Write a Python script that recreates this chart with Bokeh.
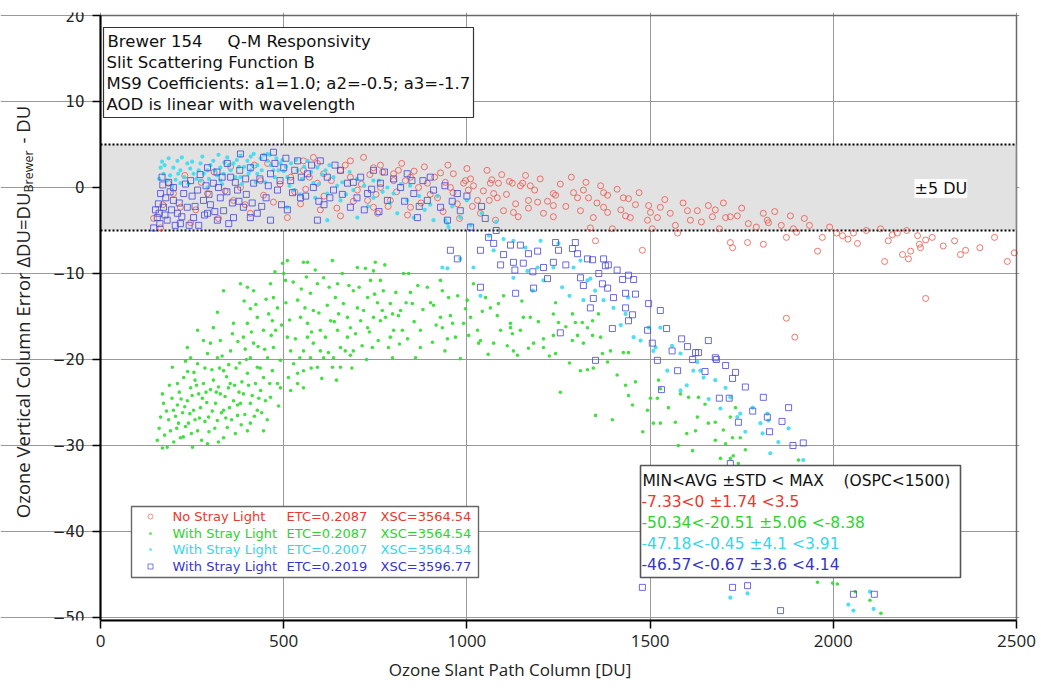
import math
from bokeh.plotting import figure
from bokeh.models import Range1d, FixedTicker, BoxAnnotation, Label
from bokeh.embed import file_html
from bokeh.resources import INLINE

# ---------------- data ----------------
x_ticks = [0, 500, 1000, 1500, 2000, 2500]
y_ticks = [-50, -40, -30, -20, -10, 0, 10, 20]
x_lo, x_hi = 0, 2500
y_lo, y_hi = -50.35, 20
band_lo, band_hi = -5, 5

red_pts = [
    (145,-3.6),(164,-4.7),(246,-4.1),(322,-3.6),(409,-3.0),(472,-1.7),(510,-3.5),(546,-1.9),(655,-3.3),
    (363,-1.5),(382,0.0),(437,0.8),(554,2.0),(592,0.5),(218,-2.3),(292,-0.7),(199,-0.7),(456,2.8),
    (581,3.5),(682,1.2),(701,-0.3),(764,2.6),(800,0.8),(745,-2.3),
    (800,1.6),(813,2.0),(832,0.8),(846,1.2),(868,0.0),(892,0.5),(928,1.7),(941,0.6),(920,-1.2),
    (974,-1.9),(991,0.5),(1004,-0.3),(1029,-1.5),(1064,0.5),(1083,-1.2),(1124,0.5),(1152,0.5),
    (1173,0.2),(1209,-3.0),(1133,-1.9),(1100,-2.7),(1037,-3.0),(955,0.0),(718,3.5),(745,2.3),
    (764,0.0),(682,3.1),(655,2.0),(609,1.6),(592,2.8),(554,3.1),(560,-0.2),(519,1.2),(791,-1.5),
    (756,-3.0),(846,-2.3),(729,-1.5),
    (963,1.6),(996,0.8),(1010,1.0),(1018,0.2),(1068,0.9),(1086,0.5),(1073,-0.7),(1061,-1.5),
    (1116,0.7),(1146,0.2),(1168,-1.5),(1193,-1.7),(1127,-2.9),(1168,-2.4),(1236,-0.7),(1242,-0.9),
    (1236,-2.1),(1236,-3.4),(1291,-0.6),(1302,-1.2),(1318,-0.3),(1332,-1.2),(1310,-2.7),(1345,-3.5),
    (1373,-0.6),(1384,-0.9),(1373,-2.3),(1384,-2.9),(1427,-1.2),(1441,-1.3),(1433,-3.3),(1446,-3.5),
    (1397,-4.8),(1337,-4.7),(1479,-7.3),(1351,-6.2),(1496,-2.1),(1501,-2.9),(1528,-2.3),(1520,-3.5),
    (1493,-3.8),(1506,-4.8),(1569,-4.4),(1575,-5.3),(1602,-2.7),(1629,-2.7),(1610,-3.8),(1659,-2.1),
    (1678,-2.6),(1706,-3.5),(1719,-3.4),(1738,-3.3),(1768,-4.2),(1809,-3.0),(1820,-3.8),(1719,-6.4),
    (1725,-7.0),(1766,-6.4),(1809,-6.6),(1689,-4.8),
    (1823,-4.1),(1858,-4.4),(1883,-3.3),(1921,-3.6),(1872,-5.8),(1891,-4.8),(1957,-7.4),(1970,-5.8),
    (2009,-5.3),(2025,-5.6),(2055,-5.3),(2066,-6.5),(2129,-4.8),(2140,-8.6),(2161,-5.5),(2175,-5.3),
    (2189,-7.8),(2205,-8.3),(2211,-7.4),(2230,-5.6),(2235,-6.6),(2238,-7.0),(2252,-6.1),(2252,-12.9),
    (2331,-6.2),(2347,-7.8),(2361,-7.3),(2475,-8.6),(2494,-7.6),(1872,-15.2),(1895,-17.4),
    (610,-1.0),(630,0.8),(645,-2.4),(668,2.6),(690,-1.6),(712,0.4),(735,1.5),(752,-0.8),(770,1.8),
    (785,-2.2),(808,-0.5),(822,2.8),(838,-3.2),(856,1.9),(875,-1.8),(884,2.4),(900,-0.8),(912,1.2),
    (935,-2.8),(948,2.6),(962,-0.6),(980,-3.6),(1000,2.2),(1015,-2.2),(1045,-0.4),(1055,2.0),
    (1078,-3.8),(1095,1.5),(1108,-0.8),(1140,-3.4),(1160,1.4),(1185,-0.3),(1200,1.0),(1220,-1.6),
    (1255,0.4),(1270,-2.2),(1285,1.2),(1325,0.6),(1355,-1.8),(1365,0.2),(1410,-0.2),(1420,-2.6),
    (1460,-2.0),(1470,-0.6),(1540,-1.4),(1555,-3.0),(1590,-1.8),(1640,-4.0),(1670,-3.4),(1700,-1.8),
    (1750,-2.4),(1790,-4.6),(1840,-2.8),(1900,-5.2),(1935,-4.4),(1990,-4.6),(2040,-6.0),(2090,-5.0),
    (2150,-6.2),(2200,-5.0),(2270,-5.8),(2300,-6.8),(2400,-7.0),(2440,-5.8),
    (170,-2.0),(185,0.5),(230,1.4),(260,-2.6),(275,0.6),(310,1.8),(340,-0.4),(355,2.4),(395,-2.0),
    (420,2.6),(445,-0.9),(490,0.4),(530,-0.5),(570,1.2),(600,-2.6),
]

green_pts = [
    (155,-29.4),(169,-30.3),(182,-30.2),(164,-26.7),(172,-25.1),(169,-24.0),(191,-28.3),(196,-20.9),
    (199,-25.9),(213,-27.4),(218,-29.1),(210,-22.8),
    (237,-18.6),(246,-19.8),(227,-22.1),(246,-23.3),(237,-24.8),(254,-25.9),(240,-27.4),(265,-28.3),
    (273,-25.6),(265,-20.5),(281,-17.8),(265,-16.6),(281,-22.8),(292,-19.3),(295,-26.7),(292,-29.8),
    (251,-30.2),(210,-25.3),(224,-26.2),
    (319,-14.5),(336,-12.0),(308,-16.3),(327,-17.8),(319,-19.8),(336,-21.3),(308,-22.4),(327,-24.0),
    (314,-25.1),(336,-25.9),(319,-27.1),(346,-27.9),(336,-29.1),(300,-18.1),(355,-19.0),(363,-15.8),
    (349,-23.3),(363,-24.8),(374,-26.5),
    (382,-11.2),(401,-11.6),(418,-12.0),(409,-14.1),(401,-15.8),(428,-15.1),(390,-17.4),(418,-18.1),
    (409,-19.8),(428,-20.9),(401,-21.6),(423,-22.8),(390,-24.0),(409,-25.1),(382,-25.1),(374,-25.3),
    (428,-25.9),(409,-27.4),(401,-28.3),(445,-28.3),(437,-23.6),(445,-22.1),(456,-19.8),(445,-16.6),
    (459,-14.7),(464,-11.2),
    (472,-12.8),(483,-14.0),(469,-15.5),(478,-16.6),(472,-18.6),(491,-20.1),(469,-21.3),(483,-22.8),
    (464,-24.4),(491,-23.3),(497,-8.8),(510,-8.5),(500,-10.0),(505,-10.8),(510,-17.4),(519,-19.0),
    (527,-20.5),(513,-22.1),(538,-21.6),(519,-23.6),(546,-15.1),(538,-13.1),(548,-11.8),(554,-8.7),
    (565,-15.8),(573,-12.3),(581,-14.3),(592,-11.2),(565,-17.4),(581,-18.1),(600,-16.6),(554,-19.0),
    (573,-19.8),(600,-19.0),(609,-19.8),(554,-21.3),(538,-22.8),(592,-20.9),(575,-21.0),(619,-13.7),
    (628,-15.5),(609,-10.5),(633,-8.5),(565,-8.7),(554,-23.3),
    (647,-11.2),(641,-12.8),(663,-13.5),(650,-14.7),(674,-15.1),(647,-16.6),(674,-17.4),(655,-18.6),
    (636,-19.8),(622,-19.2),(633,-20.9),(655,-20.9),(690,-12.0),(701,-14.0),(682,-16.3),(701,-9.3),
    (710,-15.5),(690,-19.0),(682,-19.5),
    (723,-9.4),(750,-8.7),(745,-9.7),(737,-10.8),(764,-10.8),(729,-12.8),(756,-13.4),(772,-12.0),
    (718,-14.3),(745,-15.1),(764,-15.5),(729,-16.3),(742,-18.6),(769,-14.3),(778,-15.1),(791,-13.5),
    (797,-14.7),(791,-17.4),(800,-16.6),(824,-16.6),(797,-19.8),(813,-14.9),(827,-10.0),(841,-10.0),
    (846,-12.2),(851,-13.5),(860,-19.8),(873,-16.6),(873,-18.6),(819,-14.3),
    (901,-13.4),(909,-13.7),(928,-10.8),(933,-12.0),(928,-15.1),(933,-16.3),(947,-17.6),(950,-12.8),
    (955,-14.9),(906,-18.0),(961,-15.8),(969,-17.4),
    (982,-19.9),(991,-15.8),(1001,-13.1),(996,-14.1),(1010,-15.1),(1018,-11.2),(1029,-16.6),
    (1037,-17.8),(1032,-18.1),
    (1051,-12.8),(1064,-14.0),(1073,-18.1),(1086,-13.5),(1083,-14.9),(1092,-16.6),(1119,-16.3),
    (1124,-17.0),(1127,-19.0),(1138,-19.5),(1154,-15.1),(1146,-16.6),(1168,-18.7),(1173,-15.1),
    (1209,-17.6),(1209,-18.6),(1182,-18.1),(1119,-15.8),
    (1242,-13.4),(1236,-14.7),(1250,-15.7),(1236,-17.2),(1242,-19.3),(1288,-14.7),(1296,-15.7),
    (1302,-17.2),(1288,-17.8),(1315,-15.7),(1329,-16.3),(1343,-17.2),(1318,-18.1),(1310,-21.3),
    (1329,-21.2),(1345,-21.0),(1370,-19.3),(1384,-20.3),(1392,-19.0),(1427,-19.2),(1441,-19.2),
    (1433,-23.0),(1441,-24.2),(1452,-25.3),(1397,-27.0),(1351,-26.5),(1255,-23.8),(1343,-15.5),
    (1359,-14.7),
    (1523,-22.4),(1528,-23.4),(1520,-24.5),(1509,-27.4),(1528,-27.4),(1569,-27.3),(1583,-24.0),
    (1605,-24.4),(1632,-24.4),(1629,-26.7),(1659,-27.4),(1678,-27.3),(1624,-28.3),(1706,-29.8),
    (1725,-29.1),(1727,-31.2),(1577,-30.0),(1719,-26.7),(1733,-25.6),
    (1493,-25.9),(1501,-24.5),(1616,-30.6),(1678,-29.4),(1719,-31.5),(1746,-29.1),(1692,-31.5),
    (1741,-32.1),(1800,-34.0),(1830,-37.0),(1870,-40.0),(1905,-36.0),(1950,-42.0),(1957,-45.9),
    (1998,-46.0),(2011,-46.1),(2060,-47.0),(2100,-48.0),(2130,-49.5),(1905,-31.7),
    (180,-26.0),(186,-27.0),(195,-24.5),(205,-26.6),(208,-28.0),(220,-24.6),(230,-25.5),(232,-27.8),
    (244,-26.3),(250,-24.2),(258,-27.0),(262,-23.0),(270,-26.8),(278,-24.5),(285,-27.2),(290,-25.0),
    (300,-23.5),(305,-26.0),(312,-28.0),(322,-23.2),(330,-26.2),(340,-24.3),(344,-22.0),(352,-25.6),
    (358,-27.0),(366,-23.0),(370,-21.0),(378,-23.8),(386,-22.6),(394,-26.4),(398,-20.0),(414,-24.2),
    (420,-26.6),(432,-24.5),(440,-26.2),(450,-24.8),(455,-27.0),(462,-22.8),(430,-18.5),(395,-18.8),
    (375,-17.9),(350,-20.6),(325,-21.0),(285,-21.0),(255,-21.5),(232,-20.2),
    (160,-28.0),(175,-28.8),(188,-23.0),(200,-29.6),(215,-23.8),(226,-29.0),(238,-21.4),(248,-28.6),
    (258,-22.4),(268,-24.0),(276,-29.4),(288,-23.8),(296,-28.4),(304,-21.2),(316,-23.8),(322,-29.6),
    (332,-19.6),(342,-26.8),(354,-22.8),(360,-17.0),(368,-28.6),(380,-20.4),(384,-27.6),(392,-13.2),
    (404,-23.0),(412,-16.8),(424,-13.6),(436,-21.0),(448,-18.8),(452,-13.0),(466,-17.2),(476,-9.8),
    (486,-25.4),(494,-16.0),(506,-13.4),(516,-15.4),(526,-11.0),(532,-17.6),(544,-19.8),(558,-14.0),
    (562,-10.4),(576,-16.8),(586,-9.6),(596,-14.6),(604,-22.2),(614,-17.4),(624,-11.6),(638,-15.6),
    (644,-22.4),(660,-10.0),(668,-19.0),(678,-11.4),(686,-21.0),(696,-17.0),(706,-11.6),(714,-18.4),
    (726,-20.0),(734,-16.8),(748,-12.4),(758,-17.8),(776,-9.0),(786,-18.6),(806,-12.2),(816,-18.2),
    (834,-13.4),(838,-17.6),(856,-15.6),(866,-11.4),(880,-14.2),(892,-11.6),(916,-16.0),(940,-19.0),
    (975,-12.6),(1005,-17.2),(1042,-14.4),(1058,-19.4),(1100,-12.6),(1110,-18.4),(1150,-13.2),
    (1195,-15.6),(1225,-19.6),(1270,-16.2),(1280,-20.4),(1365,-17.4),(1410,-21.8),(1460,-22.6),
    (1480,-28.4),(1550,-25.6),(1600,-28.6),(1650,-25.2),(1700,-28.2),(1760,-30.5),
]

cyan_pts = [
    (172,1.6),(182,0.8),(199,2.3),(218,2.0),(237,2.8),(254,1.6),(273,2.8),(292,2.0),(308,3.1),
    (327,2.3),(346,3.5),(363,2.8),(382,3.7),(401,3.1),(418,3.9),(437,3.4),(456,3.1),(218,0.5),
    (273,0.8),(327,0.8),(382,1.2),(428,1.6),(472,2.0),(510,1.2),(527,-0.3),(581,0.5),(619,-0.7),
    (655,-1.5),(690,-0.3),(745,-1.2),(800,-0.7),(837,-1.5),(855,-3.5),(909,-3.8),(947,-4.2),
    (982,-3.5),(701,-3.5),(619,-3.8),(510,-2.3),(210,3.1),(164,2.3),(336,1.6),(292,0.0),(409,2.0),
    (456,3.9),(491,2.8),(538,2.0),(565,3.1),(592,2.3),(636,1.2),(745,0.8),(783,0.0),
    (160,1.0),(175,2.6),(190,1.4),(205,0.9),(228,1.2),(245,2.2),(262,1.0),(282,1.6),(300,2.6),
    (318,1.4),(338,2.9),(355,2.0),(372,3.2),(392,2.4),(410,3.6),(428,2.6),(446,3.8),(465,2.6),
    (480,3.4),(500,1.9),(520,2.8),(550,1.0),(575,1.8),(605,1.5),(625,2.6),(660,0.6),(680,1.8),
    (720,0.2),(770,-0.5),(820,0.4),(870,-1.0),(900,-2.0),(960,-2.2),(1000,-1.5),(1040,-3.0),
    (1080,-4.0),
    (168,3.0),(186,3.4),(196,0.2),(212,1.6),(222,3.5),(240,0.4),(250,3.0),(268,2.0),(278,3.6),
    (296,1.0),(312,2.0),(322,3.8),(332,0.4),(350,2.6),(368,1.2),(378,2.4),(386,0.4),(404,1.6),
    (414,2.6),(424,0.6),(440,2.0),(450,0.6),(462,3.8),(476,1.2),(486,2.0),(496,3.2),(506,2.4),
    (516,0.2),(534,3.2),(544,-0.8),(556,2.4),(586,-1.2),(596,0.4),(614,2.0),(646,0.2),(670,-0.8),
    (700,1.0),(730,-2.2),(760,0.8),(790,-1.8),(810,-3.0),(845,0.2),(885,-2.6),(920,-1.0),
    (941,-3.8),(950,-4.6),(933,-9.3),(947,-9.4),(982,-8.3),(1018,-9.3),(1037,-12.6),(1073,-7.3),
    (1127,-6.2),(1127,-10.5),(1165,-9.7),(1193,-9.3),(1209,-10.8),(1236,-9.3),(1201,-6.2),
    (1250,-6.5),(1291,-9.3),(1310,-8.5),(1329,-10.8),(1337,-10.6),(1318,-13.1),(1373,-13.1),
    (1400,-14.0),(1433,-14.7),(1455,-17.4),(1474,-17.8),(1496,-16.3),(1509,-19.0),(1528,-16.3),
    (1547,-21.3),(1583,-19.3),(1629,-20.3),(1618,-21.3),(1646,-22.1),(1583,-23.6),(1678,-22.4),
    (1706,-23.3),(1719,-24.4),(1692,-25.7),(1738,-26.7),(1801,-27.4),(1820,-26.3),(1807,-28.6),
    (1637,-21.3),(1746,-26.3),(1823,-27.1),(1878,-28.0),(1828,-30.9),(1918,-31.7),(1719,-47.7),
    (1766,-47.2),(2055,-49.2),(1515,-18.6),(2041,-48.5),(2110,-49.0),(1880,-33.0),(1950,-36.0),
    (2000,-41.0),(2050,-45.0),(2100,-47.0),
    (1010,-4.4),(1060,-5.6),(1100,-6.0),(1160,-7.0),(1180,-12.0),(1260,-11.6),(1280,-12.6),
    (1350,-12.0),(1420,-16.0),(1440,-12.8),(1560,-18.4),(1600,-23.0),(1660,-24.6),(1760,-28.4),
    (1780,-25.6),(1850,-29.6),
]

blue_pts = [
    (164,-0.7),(172,-2.3),(155,-3.5),(182,-3.8),(199,-1.5),(210,-3.0),(227,-0.7),(237,-2.3),
    (246,0.8),(265,-0.3),(281,-1.5),(292,-3.0),(308,0.5),(327,-1.2),(336,-2.7),(355,1.2),(374,-0.3),
    (390,-2.3),(409,2.3),(418,0.5),(428,-3.0),(445,3.5),(464,1.6),(464,-3.8),(472,4.1),(483,-0.3),
    (500,2.3),(519,0.8),(538,3.1),(546,-1.2),(565,1.6),(581,0.0),(592,-3.8),(600,3.1),(619,1.2),
    (636,-0.3),(655,2.0),(674,0.5),(682,-2.3),(710,1.2),(729,-0.7),(745,2.0),(764,0.5),(783,-1.5),
    (819,0.0),(837,1.6),(855,-0.7),(865,-3.5),(892,-1.5),(909,-0.3),(928,-2.3),(947,-3.8),
    (974,-0.7),(982,-2.7),(199,0.0),(254,-3.5),(319,-3.8),(363,-3.5),(409,-3.5),(292,2.3),
    (346,2.8),(382,3.9),(145,-4.7),(218,-4.2),(158,-1.9),
    (170,0.3),(190,-0.5),(215,-1.8),(232,0.4),(250,-1.0),(272,1.5),(288,0.2),(300,-2.0),(318,1.8),
    (345,-0.5),(360,-1.8),(380,2.0),(398,-0.8),(435,1.0),(452,-1.2),(490,0.8),(510,-2.6),(530,2.0),
    (560,-1.0),(610,-2.0),(640,2.6),(700,-1.2),(760,-2.8),(800,1.0),(880,0.8),(1000,-1.0),
    (1040,-2.2),(178,-1.2),(160,-3.0),
    (150,-2.6),(162,-4.2),(168,1.2),(176,-3.2),(186,0.6),(194,-2.6),(204,-4.4),(222,-3.4),
    (242,-4.4),(258,-2.2),(268,-4.4),(284,-3.2),(296,-0.8),(312,-2.8),(322,0.0),(332,1.2),
    (350,-4.2),(368,0.6),(378,-1.6),(396,1.0),(414,-1.8),(440,-2.2),(458,0.2),(476,2.8),(494,-2.0),
    (506,3.4),(524,-0.6),(548,1.2),(576,2.6),(596,-1.6),(626,-1.2),(660,-0.8),(690,0.6),(720,-2.6),
    (740,-0.2),(775,1.8),(830,-1.6),(850,0.8),(870,-2.2),(900,1.2),(940,0.2),(960,-1.6),
    (955,-7.3),(974,-8.3),(1037,-7.3),(1059,-5.8),(1073,-6.5),(1092,-9.0),(1119,-6.7),(1127,-8.7),
    (1131,-9.6),(1146,-6.7),(1154,-8.8),(1168,-7.7),(1193,-7.4),(1209,-9.3),(1037,-11.6),
    (1133,-12.3),(1182,-11.7),(1236,-8.7),(1250,-7.3),(1242,-6.4),(1288,-7.1),(1302,-7.7),
    (1329,-8.3),(1343,-8.4),(1373,-8.3),(1378,-9.1),(1386,-9.0),(1296,-6.4),(1310,-10.5),
    (1318,-11.4),(1370,-11.2),(1384,-11.7),(1425,-10.7),(1441,-10.2),(1455,-10.7),(1433,-12.3),
    (1433,-14.0),(1452,-14.8),(1441,-15.5),(1397,-16.4),(1345,-12.9),(1337,-14.0),(1255,-16.9),
    (1496,-13.5),(1528,-14.3),(1493,-16.6),(1506,-18.1),(1520,-20.1),(1575,-21.3),(1586,-17.6),
    (1602,-18.5),(1624,-19.2),(1632,-19.2),(1616,-20.0),(1659,-17.8),(1678,-19.8),(1681,-20.0),
    (1706,-20.7),(1725,-22.2),(1733,-21.5),(1531,-23.5),(1689,-24.5),(1716,-24.5),(1809,-24.4),
    (1741,-27.3),(1820,-26.7),(1351,-20.1),(1878,-25.6),(1918,-29.7),(1826,-28.4),(1719,-32.1),
    (1725,-46.5),(1766,-46.3),(1856,-49.2),(2055,-47.3),(1479,-46.5),(2112,-47.3),
    (1010,-4.6),(1050,-3.6),(1080,-5.0),(1100,-7.8),(1180,-9.8),(1220,-10.6),(1270,-9.0),
    (1360,-10.0),(1400,-12.8),(1410,-9.6),(1460,-12.4),(1545,-16.4),(1560,-19.0),(1650,-21.4),
    (1760,-23.2),(1780,-26.0),(1860,-27.2),(1890,-30.0),
]

series_names = ["No Stray Light", "With Stray Light", "With Stray Light", "With Stray Light"]
series_etc = ["ETC=0.2087", "ETC=0.2087", "ETC=0.2007", "ETC=0.2019"]
series_xsc = ["XSC=3564.54", "XSC=3564.54", "XSC=3564.54", "XSC=3596.77"]
stats_header = ["MIN<AVG \u00b1STD < MAX", "(OSPC<1500)"]
stats_lines = ["-7.33<0 \u00b11.74 <3.5", "-50.34<-20.51 \u00b15.06 <-8.38",
               "-47.18<-0.45 \u00b14.1 <3.91", "-46.57<-0.67 \u00b13.6 <4.14"]
info_lines = ["Slit Scattering Function B",
              "MS9 Coefficients: a1=1.0; a2=-0.5; a3=-1.7",
              "AOD is linear with wavelength"]

# ---------------- styling / layout ----------------
text_cols = ["#e8392e", "#2bd42b", "#33d6ec", "#3535c8"]
mark_cols = ["#ee4a3e", "#2fdc2f", "#3cdcf0", "#4646dc"]

W, H = 1041, 688
AX_L, AX_R, AX_T, AX_B = 100, 1016, 15, 620   # pixel box of the axes area
FR_R, FR_T = 1019, 12                           # frame slightly larger so the box edges show

def dx(px):
    return x_lo + (px - AX_L) * (x_hi - x_lo) / (AX_R - AX_L)

def dy(py):
    return y_hi - (py - AX_T) * (y_hi - y_lo) / (AX_B - AX_T)

p = figure(width=W, height=H, x_range=Range1d(dx(0), dx(FR_R)), y_range=Range1d(y_lo, dy(FR_T)),
           output_backend="svg", toolbar_location=None,
           min_border_left=0, min_border_right=W - FR_R, min_border_top=FR_T, min_border_bottom=H - AX_B)
p.title.visible = False
p.background_fill_color = "white"
p.border_fill_color = "white"
p.outline_line_color = None

for ax in (p.xaxis[0], p.yaxis[0]):
    ax.axis_line_color = "black"
    ax.axis_line_width = 2
    ax.major_tick_line_color = "black"
    ax.major_tick_line_width = 1.5
    ax.major_tick_out = 8
    ax.major_tick_in = 0
    ax.minor_tick_line_color = None
    ax.major_label_text_color = "#222222"

p.yaxis.fixed_location = x_lo
p.xaxis.bounds = (x_lo, x_hi)
p.yaxis.bounds = (y_lo, y_hi)
p.xaxis.ticker = FixedTicker(ticks=x_ticks)
p.yaxis.ticker = FixedTicker(ticks=y_ticks)
p.xaxis.major_label_text_font = "Open Sans"
p.xaxis.major_label_text_font_size = "17px"
p.xaxis.major_label_standoff = 6
p.yaxis.major_label_text_font = "DejaVu Sans"
p.yaxis.major_label_text_font_size = "15px"
p.yaxis.major_label_standoff = 8
p.xaxis.axis_label = "Ozone Slant Path Column [DU]"
p.xaxis.axis_label_text_font = "Open Sans"
p.xaxis.axis_label_text_font_size = "17px"
p.xaxis.axis_label_text_font_style = "normal"
p.xaxis.axis_label_text_color = "#222222"
p.xaxis.axis_label_standoff = 8

p.xgrid.grid_line_color = "#999999"
p.ygrid.grid_line_color = "#999999"
p.xgrid.grid_line_width = 1
p.ygrid.grid_line_width = 1
p.xgrid.bounds = (y_lo, y_hi)
p.ygrid.bounds = (x_lo, x_hi)

# +-5 DU band with dotted edges
p.add_layout(BoxAnnotation(left=x_lo, right=x_hi, bottom=band_lo, top=band_hi, fill_color="#e2e2e2",
                           fill_alpha=1.0, line_alpha=0, level="underlay"))
for loc in (band_lo, band_hi):
    p.segment(x0=[x_lo], x1=[x_hi], y0=[loc], y1=[loc], line_color="black", line_width=2,
              line_dash="2 2")

# ---------------- data marks ----------------
def xs(pts):
    return [a for a, b in pts]

def ys(pts):
    return [b for a, b in pts]

p.scatter(xs(red_pts), ys(red_pts), marker="circle", size=6, fill_color=None,
          line_color=mark_cols[0], line_alpha=0.75, line_width=1)
p.scatter(xs(green_pts), ys(green_pts), marker="circle", size=3.6, fill_color=mark_cols[1],
          fill_alpha=0.9, line_color=None)
p.scatter(xs(cyan_pts), ys(cyan_pts), marker="circle", size=4.2, fill_color=mark_cols[2],
          fill_alpha=0.9, line_color=None)
p.scatter(xs(blue_pts), ys(blue_pts), marker="square", size=6, fill_color=None,
          line_color=mark_cols[3], line_alpha=0.8, line_width=1)

# ---------------- boxes (glyph level so they cover points) ----------------
def box(l, r, t, b, lc, lw):
    p.quad(left=dx(l), right=dx(r), top=dy(t), bottom=dy(b), fill_color="white",
           line_color=lc, line_width=lw)

box(103, 473, 27, 117, "#333333", 1.2)
box(640, 960, 465, 577, "#555555", 1.6)
box(131, 478, 506, 577, "#666666", 1.4)

# axes frame (top & right edges; left/bottom are the axis lines)
p.add_layout(BoxAnnotation(left=x_lo, right=x_hi, bottom=y_lo, top=y_hi, fill_alpha=0,
                           line_color="black", line_width=2))

def lab(px, py, txt, color="#111111", size="16px", font="DejaVu Sans", align="left", **kw):
    p.add_layout(Label(x=dx(px), y=dy(py), text=txt, text_color=color, text_font_size=size,
                       text_font=font, text_align=align, text_baseline="middle", **kw))

# info box
lab(107, 41, "Brewer 154", size="16.5px")
lab(227, 41, "Q-M Responsivity", size="16.5px")
for i, t in enumerate(info_lines):
    lab(106, 62 + 21 * i, t, size="16.5px")

# +-5 DU
lab(914, 188, "\u00b15 DU", size="16px", background_fill_color="white")

# stats box
lab(642, 480, stats_header[0], size="15.5px", color="#111111")
lab(843, 480, stats_header[1], size="15.5px", color="#111111")
for i, t in enumerate(stats_lines):
    lab(641, 501 + 21 * i, t, size="15.5px", color=text_cols[i])

# legend
rows = [516, 533, 549, 566]
p.scatter([dx(150)], [dy(rows[0])], marker="circle", size=5, fill_color=None,
          line_color=mark_cols[0], line_alpha=0.6)
p.scatter([dx(150)], [dy(rows[1])], marker="circle", size=3, fill_color=mark_cols[1],
          fill_alpha=0.7, line_color=None)
p.scatter([dx(150)], [dy(rows[2])], marker="circle", size=3, fill_color=mark_cols[2],
          fill_alpha=0.7, line_color=None)
p.scatter([dx(150)], [dy(rows[3])], marker="square", size=5, fill_color=None,
          line_color=mark_cols[3], line_alpha=0.7)
for i in range(4):
    lab(172, rows[i], series_names[i], size="13px", color=text_cols[i])
    lab(286, rows[i], series_etc[i], size="13px", color=text_cols[i])
    lab(380, rows[i], series_xsc[i], size="13px", color=text_cols[i])

# y axis label with subscript (rotated, reading upwards), joined at one point
ylab_main = "Ozone Vertical Column Error \u0394DU=DU"
ylab_sub = "Brewer"
ylab_end = "- DU"
join_py = 192
sub_len = 45
lab(22, join_py, ylab_main, size="18.5px", font="Open Sans", align="right", angle=math.pi / 2,
    color="#222222")
lab(28, join_py, ylab_sub, size="12.5px", font="Open Sans", angle=math.pi / 2, color="#222222")
lab(22, join_py - sub_len - 4, ylab_end, size="18.5px", font="Open Sans", angle=math.pi / 2,
    color="#222222")

open("out.html", "w").write(file_html(p, INLINE))
